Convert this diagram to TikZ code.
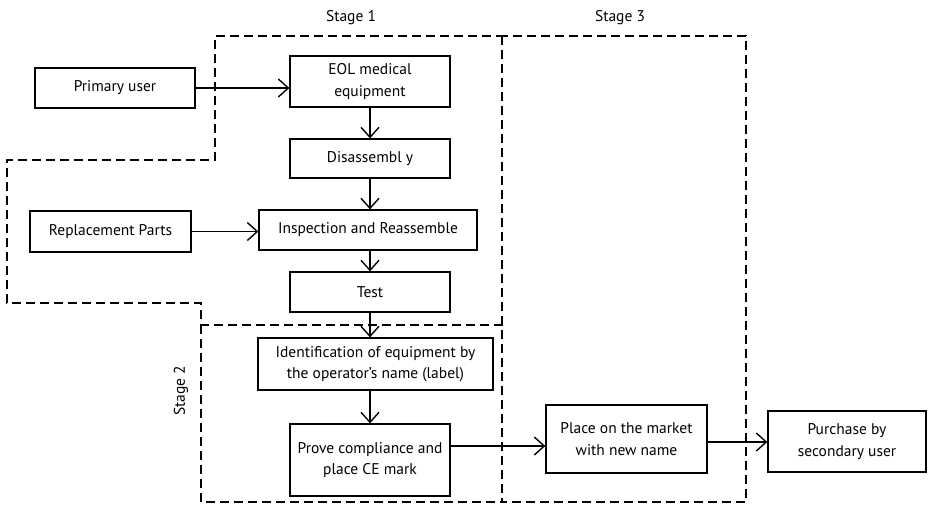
\documentclass[tikz,border=0pt]{standalone}
\usepackage{fontspec}
\setmainfont{PT Sans}
\usetikzlibrary{arrows.meta,positioning}

\tikzset{
  stepbox/.style={draw,line width=1.3pt,minimum height=40pt,minimum width=160pt,
    inner sep=1pt,align=center,font=\fontsize{15.5}{21.5}\selectfont},
  flow/.style={-{Straight Barb[length=10pt,width=18pt,line width=1.4pt]},line width=1.4pt},
  stageline/.style={line width=2.8pt,dash pattern=on 9pt off 5pt},
  stagelabel/.style={font=\fontsize{15.5}{18}\selectfont}
}

\begin{document}
\begin{tikzpicture}[x=1pt,y=1pt]
  \useasboundingbox (0,0) rectangle (928,504);
  % boxes
  \path
  node[stepbox] (primary) at (115,416) {Primary user}
  node[stepbox,minimum height=51pt] (eol) at (370,422.5) {EOL medical\\equipment}
  node[stepbox,minimum height=39pt] (disasm) at (370,345.5) {Disassembl y}
  node[stepbox,minimum width=218pt] (inspect) at (368,274) {Inspection and Reassemble}
  node[stepbox,minimum width=161pt,minimum height=41pt] (parts) at (110.5,272.5) {Replacement Parts}
  node[stepbox] (test) at (370,212) {Test}
  node[stepbox,minimum width=235pt,minimum height=52pt] (ident) at (375.5,140) {Identification of equipment by\\the operator's name (label)}
  node[stepbox,minimum height=72pt] (prove) at (370,44) {Prove compliance and\\place CE mark}
  node[stepbox,minimum width=161pt,minimum height=68pt] (market) at (626.5,65) {Place on the market\\with new name}
  node[stepbox,minimum width=158pt,minimum height=61pt] (buyer) at (847,62.5) {Purchase by\\secondary user}
  ;
  % stages
  \draw[stageline] (503,179) -- (201,179) -- (201,201) -- (7,201) -- (7,344)
    -- (215,344) -- (215,468) -- (503,468);
  \draw[stageline] (502,468) rectangle (746,2);
  \draw[stageline] (201,179) -- (201,2) -- (502,2);
  \node[stagelabel] (s1) at (351,486) {Stage 1};
  \node[stagelabel] (s3) at (620,486) {Stage 3};
  \node[stagelabel,rotate=90] (s2) at (181,113) {Stage 2};
  % arrows
  \draw[flow] (primary.east) -- (primary.east -| eol.west);
  \draw[flow] (eol) -- (disasm);
  \draw[flow] (disasm) -- (inspect.north -| disasm);
  \draw[flow] (parts.east) -- (parts.east -| inspect.west);
  \draw[flow] (inspect.south -| test) -- (test);
  \draw[flow] (test) -- (ident.north -| test);
  \draw[flow] (ident.south -| prove) -- (prove);
  \draw[flow] ([yshift=14pt]prove.east) -- ([yshift=14pt]prove.east -| market.west);
  \draw[flow] ([yshift=-3pt]market.east) -- ([yshift=-3pt]market.east -| buyer.west);
\end{tikzpicture}
\end{document}
